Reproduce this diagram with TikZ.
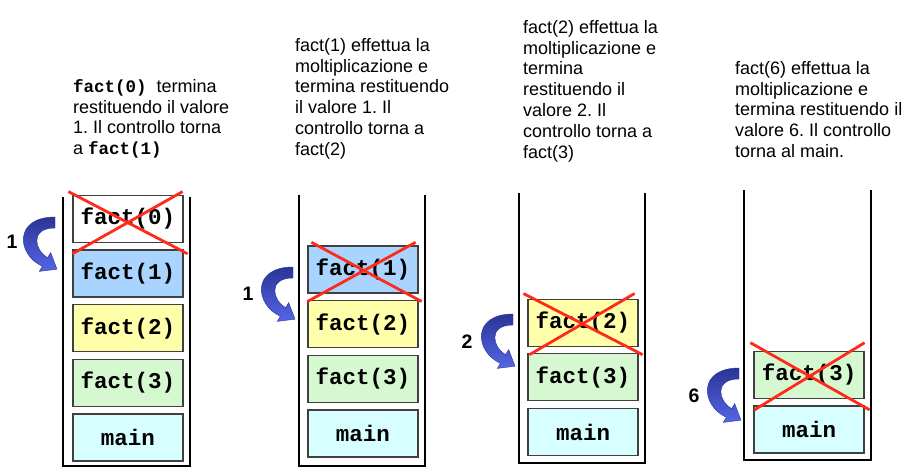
\documentclass[tikz,border=0pt]{standalone}
\usepackage{fontspec}
\setmainfont{Liberation Sans}
\setmonofont{Liberation Mono}
\usetikzlibrary{arrows.meta,positioning,calc}
\definecolor{frameblue}{HTML}{A8D4FF}
\definecolor{frameyellow}{HTML}{FFFFAA}
\definecolor{framegreen}{HTML}{D6F8D0}
\definecolor{framecyan}{HTML}{D8FFFF}
\definecolor{crossred}{HTML}{FF2A1A}
\definecolor{arrowdark}{HTML}{2A3596}
\definecolor{arrowlight}{HTML}{5566E6}
\newcommand{\codebf}[1]{{\fontsize{17.5}{20.8}\selectfont\ttfamily\bfseries #1}}
\frenchspacing
\tikzset{
  framebox/.style={
    rectangle, draw=black!75, fill=#1, line width=1.2pt,
    minimum width=110pt, minimum height=47pt, inner sep=0pt,
    font=\fontsize{22.5}{24}\selectfont\ttfamily\bfseries
  },
  framebox/.default=white,
  stackwall/.style={line width=2.2pt},
  crossline/.style={line width=2.8pt, color=crossred},
  notetext/.style={
    anchor=north west, inner sep=0pt, align=left,
    font=\fontsize{18}{20.8}\selectfont
  },
  retlabel/.style={font=\fontsize{19.5}{20}\selectfont\bfseries},
  % ── curved return arrow ──
  retarrow/.pic={
    \shade[top color=arrowdark, bottom color=arrowlight, draw=arrowdark, line width=0.4pt]
      (0,0) .. controls (-42,0) and (-38,38) .. (-12.6,49.3)
      -- (-15.7,54.4) -- (2,52.2) -- (-4.3,35.6) -- (-7.4,40.7)
      .. controls (-20,34) and (-26,11) .. (0,11) -- cycle;
  },
}

\begin{document}
\begin{tikzpicture}[x=1pt, y=-1pt]
\useasboundingbox (0,0) rectangle (905,476);

% STACK 1: fact(0) returns
\draw[stackwall] (63,197) -- (63,466) -- (190,466) -- (190,197);
\node[framebox=framecyan] (main1) at (128,437.5) {main};
\node[framebox=framegreen, above=6.5pt of main1] (f3a) {fact(3)};
\node[framebox=frameyellow, above=6.5pt of f3a] (f2a) {fact(2)};
\node[framebox=frameblue, above=6.5pt of f2a] (f1a) {fact(1)};
\node[framebox=white, above=6.5pt of f1a] (f0a) {fact(0)};
\draw[crossline] ([shift={(-4,-3)}]f0a.north west) -- ([shift={(4,11)}]f0a.south east);
\draw[crossline] ([shift={(0,11)}]f0a.south west) -- ([shift={(-1,-3)}]f0a.north east);
\pic at (55,217) {retarrow};
\node[retlabel] (ret1) at (12,242) {1};
\node[notetext] (note1) at (73,79) {\codebf{fact(0)}\ \ termina\\restituendo il valore\\1. Il controllo torna\\a \codebf{fact(1)}};

% STACK 2: fact(1) returns
\draw[stackwall] (299,195) -- (299,466) -- (425,466) -- (425,195);
\node[framebox=framecyan] (main2) at (363,433.5) {main};
\node[framebox=framegreen, above=6.5pt of main2] (f3b) {fact(3)};
\node[framebox=frameyellow, above=6.5pt of f3b] (f2b) {fact(2)};
\node[framebox=frameblue, above=6.5pt of f2b] (f1b) {fact(1)};
\draw[crossline] ([shift={(4,-3)}]f1b.north west) -- ([shift={(3,8)}]f1b.south east);
\draw[crossline] ([shift={(0,8)}]f1b.south west) -- ([shift={(-3,-3)}]f1b.north east);
\pic at (293,267) {retarrow};
\node[retlabel] (ret2) at (248,294) {1};
\node[notetext] (note2) at (295,38) {fact(1) effettua la\\moltiplicazione e\\termina restituendo\\il valore 1. Il\\controllo torna a\\fact(2)};

% STACK 3: fact(2) returns
\draw[stackwall] (519,193) -- (519,463) -- (645,463) -- (645,193);
\node[framebox=framecyan] (main3) at (583,432) {main};
\node[framebox=framegreen, above=6.5pt of main3] (f3c) {fact(3)};
\node[framebox=frameyellow, above=6.5pt of f3c] (f2c) {fact(2)};
\draw[crossline] ([shift={(-4,-5)}]f2c.north west) -- ([shift={(4,8)}]f2c.south east);
\draw[crossline] ([shift={(2,8)}]f2c.south west) -- ([shift={(-4,-5)}]f2c.north east);
\pic at (513,314) {retarrow};
\node[retlabel] (ret3) at (467,342) {2};
\node[notetext] (note3) at (523,20) {fact(2) effettua la\\moltiplicazione e\\termina\\restituendo il\\valore 2. Il\\controllo torna a\\fact(3)};

% STACK 4: fact(3) returns to main
\draw[stackwall] (744,190) -- (744,460) -- (871,460) -- (871,190);
\node[framebox=framecyan] (main4) at (809,429.5) {main};
\node[framebox=framegreen, above=6.5pt of main4] (f3d) {fact(3)};
\draw[crossline] ([shift={(-3,-8)}]f3d.north west) -- ([shift={(5,11)}]f3d.south east);
\draw[crossline] ([shift={(1,11)}]f3d.south west) -- ([shift={(0,-8)}]f3d.north east);
\pic at (739,368) {retarrow};
\node[retlabel] (ret4) at (694,396) {6};
\node[notetext] (note4) at (735,61) {fact(6) effettua la\\moltiplicazione e\\termina restituendo il\\valore 6. Il controllo\\torna al main.};

\end{tikzpicture}
\end{document}
